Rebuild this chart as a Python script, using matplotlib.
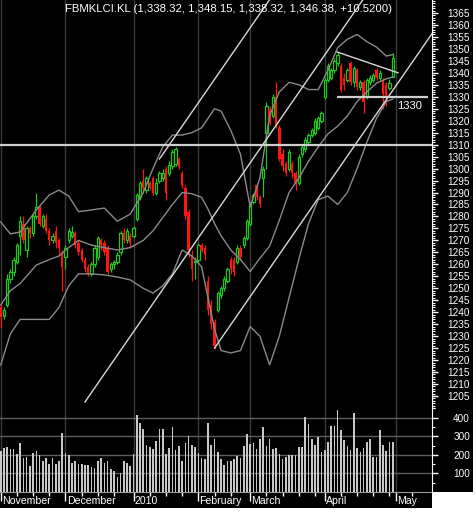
import numpy as np
import matplotlib
matplotlib.use("Agg")
import matplotlib.pyplot as plt
from matplotlib.patches import Rectangle
from matplotlib.ticker import MultipleLocator

# ---- daily bars, one per trading day, Oct 30 2009 .. Apr 30 2010 ----
opens = [1242, 1238.5, 1243, 1254, 1257, 1261, 1272, 1277, 1266, 1275,
         1273, 1280, 1284, 1276, 1279, 1274, 1270, 1274, 1270, 1265,
         1263, 1270, 1272, 1273, 1269, 1266, 1262, 1259, 1256, 1260,
         1263, 1270, 1269, 1267, 1258, 1260, 1261, 1265, 1273, 1270,
         1272, 1272, 1279, 1288, 1295, 1291, 1294, 1296, 1290, 1295,
         1296, 1300, 1298, 1301, 1302, 1304, 1298, 1292, 1282, 1264,
         1261, 1262, 1268, 1267, 1253, 1243, 1236, 1241, 1247, 1250,
         1253, 1262, 1262, 1261, 1267, 1268, 1271, 1277, 1286, 1293,
         1288, 1296, 1315, 1325, 1322, 1330, 1317, 1306, 1302, 1300,
         1302, 1298, 1294, 1306, 1308, 1311, 1314, 1315, 1317, 1320,
         1330, 1337, 1338, 1341, 1344, 1343, 1338, 1337, 1344, 1336,
         1341, 1334, 1336, 1330, 1336, 1337, 1341, 1338, 1337, 1335,
         1333.5, 1338.32]
highs = [1243, 1242, 1256, 1258, 1263, 1269, 1280, 1280, 1276, 1276,
         1281, 1290, 1285, 1281, 1281, 1275, 1273, 1276, 1271, 1266,
         1268, 1275, 1276, 1274, 1270, 1267, 1263, 1260, 1261, 1268,
         1272, 1271, 1270, 1268, 1261, 1262, 1265, 1274, 1275, 1275,
         1273, 1276, 1290, 1295, 1300, 1297, 1295, 1297, 1296, 1299,
         1300, 1301, 1303, 1308, 1309, 1305, 1299, 1293, 1283, 1266,
         1263, 1269, 1269, 1268, 1255, 1245, 1237, 1249, 1251, 1255,
         1259, 1263, 1263, 1268, 1268, 1272, 1279, 1286, 1290, 1294,
         1289, 1301, 1328, 1326, 1331, 1336, 1318, 1308, 1303, 1308,
         1303, 1299, 1306, 1310, 1313, 1315, 1317, 1321, 1322, 1324,
         1338, 1344, 1342, 1346, 1348.7, 1344, 1340, 1342, 1345, 1343,
         1342, 1337, 1337, 1338, 1339, 1340, 1342, 1341, 1338, 1336,
         1337.5, 1348.15]
lows = [1234, 1237, 1242, 1252, 1255, 1260, 1264, 1269, 1263, 1271,
        1272, 1279, 1276, 1275, 1273, 1268, 1269, 1267, 1264, 1249,
        1258, 1269, 1271, 1267, 1264, 1261, 1257, 1255, 1255, 1259,
        1262, 1266, 1264, 1256, 1257, 1258, 1260, 1264, 1269, 1269,
        1267, 1271, 1278, 1287, 1290, 1290, 1291, 1289, 1289, 1294,
        1295, 1287, 1297, 1300, 1301, 1300, 1292, 1279, 1263, 1253,
        1254, 1261, 1265, 1262, 1239, 1233, 1224.5, 1240, 1246, 1249,
        1252, 1256, 1255, 1260, 1262, 1267, 1270, 1276, 1285, 1287,
        1284, 1288, 1300, 1318, 1321, 1317, 1303, 1299, 1297, 1299,
        1296, 1291, 1293, 1305, 1307, 1310, 1313, 1314, 1316, 1319,
        1329, 1336, 1337, 1340, 1343, 1332, 1333, 1336, 1335, 1334,
        1333, 1333, 1323, 1329, 1335, 1336, 1337, 1337, 1325, 1326,
        1333, 1338.32]
closes = [1238, 1241, 1254, 1257, 1262, 1268, 1278, 1270, 1275, 1273,
          1280, 1284, 1277, 1280, 1274, 1270, 1272, 1269, 1267, 1259,
          1267, 1274, 1273.5, 1268, 1265, 1262, 1258, 1256, 1260, 1267,
          1271, 1268, 1265, 1257, 1260, 1261, 1264, 1273, 1270, 1274,
          1269, 1275, 1289, 1294, 1292, 1296, 1292, 1290, 1294, 1298,
          1298, 1290, 1301.5, 1307, 1308, 1300.7, 1293, 1280, 1266, 1258,
          1261.5, 1268, 1266, 1264, 1241, 1235, 1226, 1248, 1250, 1254,
          1258, 1258, 1257, 1267, 1263, 1271, 1278, 1285, 1289, 1288,
          1285, 1300, 1326, 1319, 1330, 1318, 1304, 1301, 1298, 1307,
          1298, 1294, 1305, 1309, 1312, 1314, 1316, 1320, 1321, 1323,
          1337, 1343, 1341, 1345, 1347.5, 1333, 1335, 1341, 1336, 1342,
          1334, 1336, 1328, 1337, 1338, 1339, 1338, 1340, 1331, 1330,
          1335.86, 1346.38]
volume = [220, 238, 242, 229, 229, 202, 265, 184, 190, 140,
          208, 220, 197, 166, 184, 149, 184, 149, 166, 319,
          211, 197, 158, 166, 149, 149, 143, 143, 136, 131,
          166, 184, 158, 166, 122, 113, 82, 104, 166, 158,
          140, 202, 417, 369, 337, 251, 244, 233, 274, 340,
          337, 202, 238, 351, 226, 247, 166, 261, 301, 251,
          244, 211, 184, 175, 369, 251, 283, 215, 175, 143,
          166, 166, 175, 193, 185, 247, 313, 260, 265, 233,
          283, 351, 247, 283, 229, 238, 202, 179, 190, 197,
          197, 197, 244, 244, 403, 364, 287, 251, 297, 215,
          226, 269, 355, 355, 440, 333, 278, 247, 226, 423,
          238, 215, 238, 269, 283, 188, 188, 331, 251, 222,
          269, 269]

# ---- bollinger band readings (bar index -> price) ----
band_x = [0, 3, 6, 11, 15, 18, 21, 24, 28, 32, 36, 40, 44, 47, 50, 53, 56, 59,
          62, 64, 66, 68, 71, 74, 77, 80, 83, 86, 89, 92, 95, 98, 101, 104,
          107, 110, 113, 116, 119, 121]
band_upper = [1277.7, 1272.7, 1273.5, 1282.7, 1289, 1291, 1288.5, 1282, 1282.7,
              1283.5, 1278, 1281, 1290, 1300, 1309, 1314, 1314, 1315, 1317, 1321,
              1325, 1324, 1316, 1306, 1284, 1296, 1322, 1332, 1336, 1335, 1333,
              1333, 1341, 1350.5, 1354, 1356, 1353, 1350.7, 1347, 1347.6]
band_mid = [1243, 1249, 1252, 1259.7, 1262, 1263.5, 1267, 1270, 1268, 1267,
            1266, 1267, 1270, 1274, 1279.5, 1285, 1290, 1289.5, 1288, 1283,
            1277, 1272, 1266, 1262, 1257, 1262.5, 1267.6, 1278.4, 1290, 1296,
            1303, 1309, 1314.5, 1317.7, 1322, 1328, 1332, 1335.7, 1337.5, 1338.2]
band_lower = [1218, 1231, 1237, 1237, 1237, 1242, 1251, 1256, 1256, 1255.6,
              1254.7, 1253.5, 1250, 1248, 1251, 1256, 1266, 1263.5, 1259, 1246,
              1233, 1224, 1223, 1224, 1234, 1230, 1218, 1230, 1246, 1262,
              1277, 1287, 1288.5, 1285, 1290, 1300, 1311, 1321, 1328, 1329]

# ---- hand drawn lines: (x0, y0, x1, y1) in bar index / price ----
trend_lines = [(49, 1304, 84, 1372.5),
               (26, 1202.5, 112.7, 1372.3),
               (66, 1225, 133.2, 1356.5),
               (103.8, 1348.7, 122.6, 1340)]
support_1310 = 1310
support_1330 = 1330

month_names = ["November", "December", "2010", "February", "March", "April", "May"]
month_start = [0, 20, 41, 61, 77, 100, 122]

W, H = 477, 512
GREEN = "#1ec81e"
RED = "#ff1414"


def fbox(x0, y0, x1, y1):
    # pixel box measured from the top-left corner -> figure rect
    return [x0 / W, 1 - y1 / H, (x1 - x0) / W, (y1 - y0) / H]


fig = plt.figure(figsize=(W / 100, H / 100), dpi=100, facecolor="black")
ax = fig.add_axes(fbox(0, 0, 432, 408))
axv = fig.add_axes(fbox(0, 408, 432, 492))
axl = fig.add_axes(fbox(0, 492, 432, 508))

# white frame on right and bottom, plus the blank corner box
for rect in [(473 / W, 0, 4 / W, 1), (0, 0, 1, 4 / H),
             (432 / W, 4 / H, 41 / W, 16 / H)]:
    fig.patches.append(Rectangle(rect[:2], rect[2], rect[3], transform=fig.transFigure,
                                 facecolor="white", edgecolor="none"))

xlim = (-0.216, 133.12)
for a in (ax, axv, axl):
    a.set_facecolor("black")
    a.set_xlim(*xlim)
    for s in ("left", "top", "bottom"):
        a.spines[s].set_visible(False)
    a.spines["right"].set_color("white")
    a.tick_params(axis="x", bottom=False, labelbottom=False)

# month separators
for m in month_start:
    ax.axvline(m, color="#3a3a3a", lw=1, zorder=0)
    axv.axvline(m, color="#3a3a3a", lw=1, zorder=0)

# ---- price panel ----
o = np.array(opens)
h = np.array(highs)
l = np.array(lows)
c = np.array(closes)
idx = np.arange(len(c))
up = c >= o
ax.vlines(idx, l, h, colors=np.where(up, GREEN, RED), lw=0.9, zorder=2)
ax.bar(idx[up], np.maximum(c - o, 0.4)[up], bottom=o[up], width=0.72,
       facecolor="black", edgecolor=GREEN, lw=0.9, zorder=3)
ax.bar(idx[~up], np.maximum(o - c, 0.4)[~up], bottom=c[~up], width=0.72,
       color=RED, lw=0, zorder=3)

for band in (band_upper, band_mid, band_lower):
    ax.plot(band_x, band, color="#8a8a8a", lw=1, zorder=4)

for x0, y0, x1, y1 in trend_lines:
    ax.plot([x0, x1], [y0, y1], color="#d8d8d8", lw=1, zorder=5)
ax.axhline(support_1310, color="#cfcfcf", lw=1.6, zorder=5)
ax.hlines(support_1330, 103.8, 131.9, color="#cfcfcf", lw=1.6, zorder=5)
ax.text(122.3, 1326.2, "1330", color="white", fontsize=8,
        family="Liberation Sans", va="center", ha="left")

ax.set_ylim(1200, 1370.4)
ax.yaxis.tick_right()
ax.set_yticks(np.arange(1205, 1366, 5))
ax.yaxis.set_minor_locator(MultipleLocator(1))
ax.tick_params(axis="y", which="major", colors="white", length=4, width=1,
               pad=23.4, labelsize=7.2)
ax.tick_params(axis="y", which="minor", colors="white", length=1.8, width=0.8)

# ---- volume panel ----
axv.bar(idx, volume, width=0.5, color="#c8c8c8", zorder=2)
for v in (100, 200, 300, 400):
    axv.axhline(v, color="#5c5c5c", lw=1, zorder=0)
axv.set_ylim(0, 452)
axv.yaxis.tick_right()
axv.set_yticks([100, 200, 300, 400])
axv.yaxis.set_minor_locator(MultipleLocator(50))
axv.tick_params(axis="y", which="major", colors="white", length=4, width=1,
                pad=23.4, labelsize=7.2)
axv.tick_params(axis="y", which="minor", colors="white", length=1.8, width=0.8)

for a in (ax, axv):
    for lab in a.get_yticklabels():
        lab.set_horizontalalignment("right")
        lab.set_family("Liberation Sans")

# ---- month label band ----
axl.set_ylim(0, 1)
axl.set_yticks([])
axl.spines["top"].set_visible(True)
axl.spines["top"].set_color("#9a9a9a")
axl.spines["right"].set_visible(False)
ends = month_start[1:] + [133]
for name, m0, m1 in zip(month_names, month_start, ends):
    axl.vlines(m0, 0.45, 1, color="white", lw=1)
    axl.vlines(np.arange(m0 + 5, m1 - 1, 5), 0.72, 1, color="white", lw=1)
    axl.text(m0 + 0.35, 0.42, name, color="white", fontsize=7.6,
             family="Liberation Sans", va="center", ha="left")

fig.text(65 / W, 1 - 9 / H,
         "FBMKLCI.KL (1,338.32, 1,348.15, 1,338.32, 1,346.38, +10.5200)",
         color="white", fontsize=8.2, family="Liberation Sans",
         va="center", ha="left")

fig.savefig("out.png", dpi=100, facecolor="black")
